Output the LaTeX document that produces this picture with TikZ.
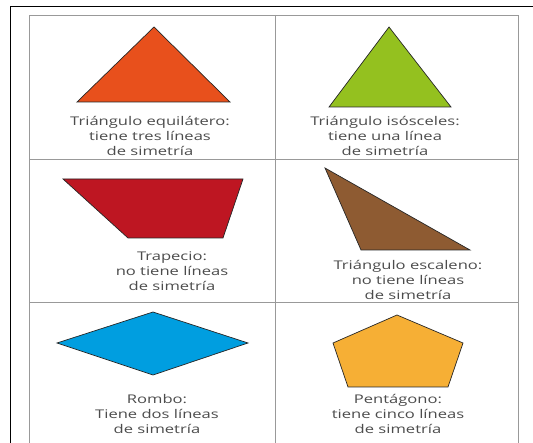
\documentclass[tikz,border=0pt]{standalone}
\usepackage{fontspec}
\setmainfont{Open Sans}
\newfontfamily\etiqueta[FakeStretch=1.38]{Open Sans}
\definecolor{naranja}{HTML}{E8501C}
\definecolor{verde}{HTML}{94C11F}
\definecolor{rojo}{HTML}{BE1622}
\definecolor{cafe}{HTML}{8E5B32}
\definecolor{azul}{HTML}{009EE0}
\definecolor{amarillo}{HTML}{F6AF35}
\usetikzlibrary{positioning}

\begin{document}
\begin{tikzpicture}[x=1pt, y=-1pt,
        every node/.style={font=\etiqueta\fontsize{12}{15}\selectfont, align=center, text=black!70},
        figura/.style={draw=black!85, line width=0.7pt, line join=miter},
        rejilla/.style={draw=black!40, line width=0.8pt}]

        \useasboundingbox (0,0) rectangle (533,443);

        % marco y tabla
        \draw[line width=1pt] (10,443) -- (10,7) -- (533,7);
        \draw[rejilla] (29,445) -- (29,15) -- (518,15) -- (518,445);
        \draw[rejilla] (275,15) -- (275,445);
        \draw[rejilla] (29,159) -- (518,159);
        \draw[rejilla] (29,302) -- (518,302);

        % figuras
        \filldraw[figura, fill=naranja] (77,102) -- (154,27) -- (230,102) -- cycle;
        \filldraw[figura, fill=verde] (329,107) -- (389,27) -- (451,107) -- cycle;
        \filldraw[figura, fill=rojo] (63,179) -- (243,179) -- (223,238) -- (128,238) -- cycle;
        \filldraw[figura, fill=cafe] (325,168) -- (470,250) -- (361,250) -- cycle;
        \filldraw[figura, fill=azul] (57,343) -- (153,312) -- (248,343) -- (153,375) -- cycle;
        \filldraw[figura, fill=amarillo] (397,315) -- (463,343) -- (448,387) -- (348,387) -- (333,343) -- cycle;

        % textos
        \node (t1) at (150,136) {Triángulo equilátero:\\tiene tres líneas\\de simetría};
        \node (t2) at (385,136) {Triángulo isósceles:\\tiene una línea\\de simetría};
        \node (t3) at (172,271) {Trapecio:\\no tiene líneas\\de simetría};
        \node (t4) at (408,280) {Triángulo escaleno:\\no tiene líneas\\de simetría};
        \node (t5) at (157,414) {Rombo:\\Tiene dos líneas\\de simetría};
        \node (t6) at (398,414) {Pentágono:\\tiene cinco líneas\\de simetría};

\end{tikzpicture}
\end{document}
